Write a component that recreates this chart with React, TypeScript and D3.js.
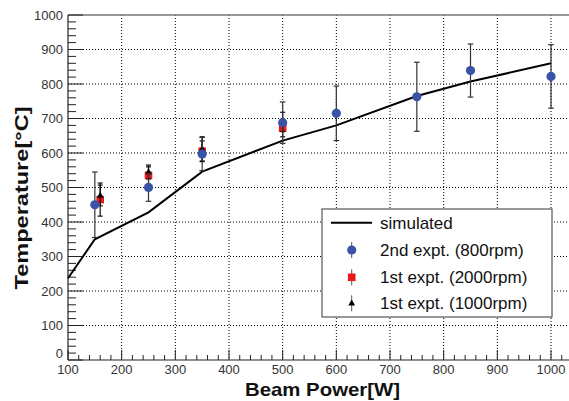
import React from "react";
import * as d3 from "d3";

const simPower = [100, 150, 250, 350, 500, 600, 750, 850, 1000];
const simTemp = [237, 350, 428, 546, 636, 680, 765, 807, 860];

const blueLabel = "2nd expt. (800rpm)";
const bluePower = [150, 250, 350, 500, 600, 750, 850, 1000];
const blueTemp = [450, 500, 597, 688, 715, 763, 839, 822];
const blueErr = [95, 40, 48, 60, 79, 100, 77, 92];

const redLabel = "1st expt. (2000rpm)";
const redPower = [160, 250, 350, 500];
const redTemp = [465, 535, 605, 672];
const redErr = [48, 25, 30, 25];

const blackLabel = "1st expt. (1000rpm)";
const blackPower = [160, 250, 350, 500];
const blackTemp = [477, 545, 612, 690];
const blackErr = [30, 20, 35, 28];

const simLabel = "simulated";
const xTicks = [100, 200, 300, 400, 500, 600, 700, 800, 900, 1000];
const yTicks = [0, 100, 200, 300, 400, 500, 600, 700, 800, 900, 1000];
const xTitle = "Beam Power[W]";

const W = 569;
const H = 401;
const left = 68;
const top = 15;
const bottom = 360;

export default function App() {
  const x = d3.scaleLinear().domain([100, 1040]).range([left, left + 940 * 0.53667]);
  const y = d3.scaleLinear().domain([0, 1000]).range([bottom, top]);
  const right = W + 5;
  const font = "'Liberation Sans', Arial, Helvetica, sans-serif";

  const line = d3
    .line<number>()
    .x((_, i) => x(simPower[i]))
    .y((d) => y(d));

  const xMinor = d3.range(100, 1041, 20);
  const yMinor = d3.range(0, 1001, 20);

  const errBars = (p: number[], t: number[], e: number[], color: string, cap: number) =>
    p.map((pv, i) => {
      const cx = x(pv);
      const y1 = y(t[i] + e[i]);
      const y2 = y(t[i] - e[i]);
      return (
        <g key={i} stroke={color} strokeWidth={1.2}>
          <line x1={cx} x2={cx} y1={y1} y2={y2} />
          <line x1={cx - cap} x2={cx + cap} y1={y1} y2={y1} />
          <line x1={cx - cap} x2={cx + cap} y1={y2} y2={y2} />
        </g>
      );
    });

  const tri = (cx: number, cy: number, s: number) =>
    `M${cx},${cy - s} L${cx + s * 0.9},${cy + s * 0.6} L${cx - s * 0.9},${cy + s * 0.6} Z`;

  const legX = 322;
  const legY = 209;
  const legRows = [222.7, 250, 277.3, 303.3];
  const legMarkX = 351.7;
  const legTextX = 380;

  return (
    <svg width={W} height={H} style={{ position: "absolute", left: 0, top: 0 }} fontFamily={font}>
      <rect x={0} y={0} width={W} height={H} fill="#fff" />
      {/* grid */}
      <g stroke="#000" strokeWidth={1} strokeDasharray="1,2">
        {xTicks
          .filter((t) => t > 100)
          .map((t) => (
            <line key={"gx" + t} x1={x(t)} x2={x(t)} y1={top} y2={bottom} />
          ))}
        {yTicks
          .filter((t) => t > 0 && t < 1000)
          .map((t) => (
            <line key={"gy" + t} x1={left} x2={right} y1={y(t)} y2={y(t)} />
          ))}
      </g>
      {/* frame */}
      <line x1={left} x2={right} y1={top} y2={top} stroke="#777" strokeWidth={1.5} />
      <line x1={left} x2={right} y1={bottom} y2={bottom} stroke="#222" strokeWidth={1.2} />
      <line x1={left} x2={left} y1={top} y2={bottom} stroke="#222" strokeWidth={1.2} />
      {/* ticks */}
      <g stroke="#222" strokeWidth={1}>
        {xMinor.map((t) => (
          <line key={"xt" + t} x1={x(t)} x2={x(t)} y1={bottom} y2={bottom - (t % 100 === 0 ? 10 : 5)} />
        ))}
        {yMinor.map((t) => (
          <line key={"yt" + t} x1={left} x2={left + (t % 100 === 0 ? 15 : 8)} y1={y(t)} y2={y(t)} />
        ))}
      </g>
      {/* tick labels */}
      <g fontSize={13} fill="#333">
        {xTicks.map((t) => (
          <text key={"xl" + t} x={x(t)} y={374} textAnchor="middle">
            {t}
          </text>
        ))}
        {yTicks.map((t) => (
          <text key={"yl" + t} x={63} y={y(t) + (t === 0 ? -2.5 : 4.5)} textAnchor="end">
            {t}
          </text>
        ))}
      </g>
      {/* titles */}
      <text x={322.5} y={396} textAnchor="middle" fontSize={19} fontWeight="bold" fill="#111" textLength={155} lengthAdjust="spacingAndGlyphs">
        {xTitle}
      </text>
      <text
        transform={`translate(28,${198}) rotate(-90)`}
        textAnchor="middle"
        fontSize={19}
        fontWeight="bold"
        fill="#111"
        textLength={183}
        lengthAdjust="spacingAndGlyphs"
      >
        Temperature[°C]
      </text>
      {/* simulated line */}
      <path d={line(simTemp) || ""} fill="none" stroke="#000" strokeWidth={2} />
      {/* red */}
      {errBars(redPower, redTemp, redErr, "#111", 2.5)}
      {redPower.map((p, i) => (
        <rect key={"r" + i} x={x(p) - 3.8} y={y(redTemp[i]) - 3.8} width={7.6} height={7.6} fill="#e8191c" />
      ))}
      {/* black */}
      {errBars(blackPower, blackTemp, blackErr, "#111", 2.5)}
      {blackPower.map((p, i) => (
        <path key={"k" + i} d={tri(x(p), y(blackTemp[i]), 3.8)} fill="#000" />
      ))}
      {/* blue */}
      {errBars(bluePower, blueTemp, blueErr, "#333", 2.8)}
      {bluePower.map((p, i) => (
        <circle key={"b" + i} cx={x(p)} cy={y(blueTemp[i])} r={4.6} fill="#3a52a8" />
      ))}
      {/* legend */}
      <rect x={legX} y={legY} width={230} height={108} fill="#fff" stroke="#555" strokeWidth={1.2} />
      <line x1={331} x2={372} y1={legRows[0]} y2={legRows[0]} stroke="#000" strokeWidth={2} />
      <g stroke="#555" strokeWidth={1}>
        {[1, 2, 3].map((k) => (
          <line key={"lv" + k} x1={legMarkX} x2={legMarkX} y1={legRows[k] - 8} y2={legRows[k] + 8} />
        ))}
      </g>
      <circle cx={legMarkX} cy={legRows[1]} r={4.6} fill="#3a52a8" />
      <rect x={legMarkX - 3.8} y={legRows[2] - 3.8} width={7.6} height={7.6} fill="#e8191c" />
      <path d={tri(legMarkX, legRows[3], 3.8)} fill="#000" />
      <g fontSize={17} fill="#111">
        {[simLabel, blueLabel, redLabel, blackLabel].map((s, k) => (
          <text key={"lt" + k} x={legTextX} y={legRows[k] + 6}>
            {s}
          </text>
        ))}
      </g>
    </svg>
  );
}
